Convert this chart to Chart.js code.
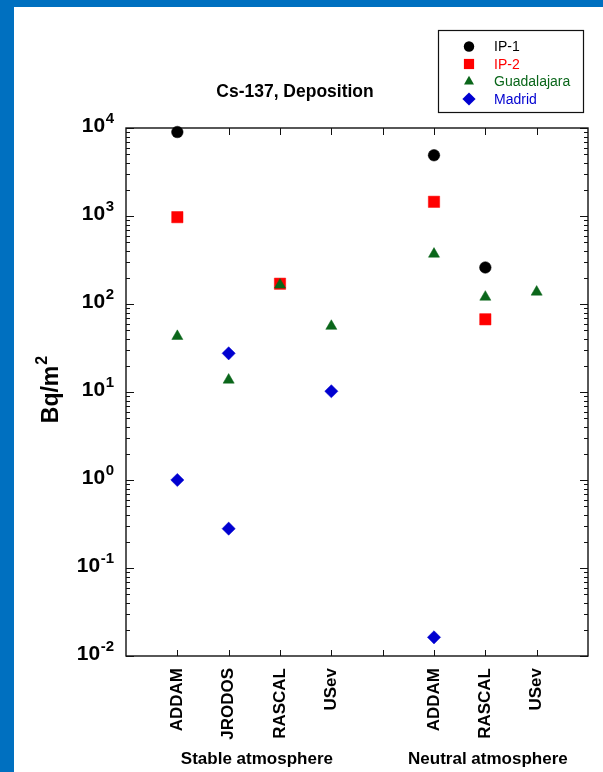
<!DOCTYPE html>
<html><head><meta charset="utf-8">
<script src="https://cdn.jsdelivr.net/npm/chart.js@4/dist/chart.umd.min.js"></script>
<style>
html,body{margin:0;padding:0;background:#0070c0;width:603px;height:772px;overflow:hidden}
#wrap{position:absolute;left:14px;top:7px;width:589px;height:765px;background:#fff}
canvas{display:block}
</style></head><body>
<div id="wrap"><canvas id="c" width="589" height="765" style="width:589px;height:765px"></canvas></div>
<script>
// ---- data ----
const categories = ['ADDAM', 'JRODOS', 'RASCAL', 'USev', '', 'ADDAM', 'RASCAL', 'USev'];
const categoryPositions = [1, 2, 3, 4, 5, 6, 7, 8];
const groupLabels = ['Stable atmosphere', 'Neutral atmosphere'];
const groupCenters = [2.55, 7.05];
const yTickValues = [0.01, 0.1, 1, 10, 100, 1000, 10000];
const yTickExponents = ['-2', '-1', '0', '1', '2', '3', '4'];

const ip1X = [1, 6, 7];
const ip1Y = [9000, 4900, 260];
const ip2X = [1, 3, 6, 7];
const ip2Y = [970, 170, 1450, 67];
const guadX = [1, 2, 3, 4, 6, 7, 8];
const guadY = [43, 13.7, 165, 56, 370, 120, 137];
const madX = [1, 2, 2, 4, 6];
const madY = [1.0, 27.5, 0.28, 10.2, 0.0163];

const titleText = 'Cs-137, Deposition';
const yTitleBase = 'Bq/m';
const yTitleSup = '2';

const FONT = '"Liberation Sans", Arial, sans-serif';
const series = [
  {label: 'IP-1', xs: ip1X, ys: ip1Y, color: '#000000', style: 'circle', r: 5.8},
  {label: 'IP-2', xs: ip2X, ys: ip2Y, color: '#ff0000', style: 'rect', r: 8},
  {label: 'Guadalajara', xs: guadX, ys: guadY, color: '#0a661a', style: 'triangle', r: 6.4},
  {label: 'Madrid', xs: madX, ys: madY, color: '#0000d0', style: 'rectRot', r: 6.6}
];

const datasets = series.map((s, k) => ({
  label: s.label,
  data: s.xs.map((x, i) => ({x: x, y: s.ys[i]})),
  pointStyle: s.style,
  pointRadius: s.r,
  pointHoverRadius: s.r,
  backgroundColor: s.color,
  borderColor: s.color,
  pointBorderWidth: 0.5,
  showLine: false,
  clip: false,
  order: series.length - k
}));

function drawMarker(ctx, style, r, x, y, color) {
  ctx.save();
  ctx.fillStyle = color;
  ctx.beginPath();
  if (style === 'circle') {
    ctx.arc(x, y, r, 0, Math.PI * 2);
  } else if (style === 'rect') {
    const s = r * Math.SQRT1_2;
    ctx.rect(x - s, y - s, 2 * s, 2 * s);
  } else if (style === 'triangle') {
    let a = 0;
    ctx.moveTo(x + Math.sin(a) * r, y - Math.cos(a) * r);
    a += 2 * Math.PI / 3;
    ctx.lineTo(x + Math.sin(a) * r, y - Math.cos(a) * r);
    a += 2 * Math.PI / 3;
    ctx.lineTo(x + Math.sin(a) * r, y - Math.cos(a) * r);
  } else {
    ctx.moveTo(x - r, y); ctx.lineTo(x, y - r); ctx.lineTo(x + r, y); ctx.lineTo(x, y + r);
  }
  ctx.closePath();
  ctx.fill();
  ctx.restore();
}

function scaledText(ctx, text, x, y, sx) {
  ctx.save();
  ctx.translate(x, y);
  ctx.scale(sx, 1);
  ctx.fillText(text, 0, 0);
  ctx.restore();
}

const framePlugin = {
  id: 'frame',
  beforeDatasetsDraw(chart) {
    const {ctx, chartArea: a, scales: {x, y}} = chart;
    ctx.save();
    ctx.strokeStyle = '#111';
    ctx.lineWidth = 1.4;
    ctx.strokeRect(a.left, a.top, a.right - a.left, a.bottom - a.top);
    ctx.lineWidth = 1;
    ctx.beginPath();
    for (let d = -2; d <= 4; d++) {
      for (let m = 1; m <= 9; m++) {
        const v = m * Math.pow(10, d);
        if (v > 10000.0001) break;
        const py = Math.round(y.getPixelForValue(v)) + 0.5;
        const len = m === 1 ? 8 : 4;
        ctx.moveTo(a.left, py); ctx.lineTo(a.left + len, py);
        ctx.moveTo(a.right, py); ctx.lineTo(a.right - len, py);
      }
    }
    categoryPositions.forEach(p => {
      const px = Math.round(x.getPixelForValue(p)) + 0.5;
      ctx.moveTo(px, a.bottom); ctx.lineTo(px, a.bottom - 6);
      ctx.moveTo(px, a.top); ctx.lineTo(px, a.top + 7);
    });
    ctx.stroke();
    ctx.restore();
  },
  afterDraw(chart) {
    const {ctx, chartArea: a, scales: {x, y}} = chart;
    ctx.save();
    ctx.fillStyle = '#000';
    yTickValues.forEach((v, i) => {
      const py = y.getPixelForValue(v);
      ctx.textAlign = 'right';
      ctx.textBaseline = 'alphabetic';
      ctx.font = 'bold 15px ' + FONT;
      const ex = yTickExponents[i];
      const right = a.left - 12;
      ctx.fillText(ex, right, py - 5);
      const ew = ctx.measureText(ex).width;
      ctx.font = 'bold 21px ' + FONT;
      ctx.fillText('10', right - ew - 0.5, py + 4);
    });
    ctx.font = 'bold 17px ' + FONT;
    categories.forEach((c, i) => {
      if (!c) return;
      const px = x.getPixelForValue(categoryPositions[i]);
      ctx.save();
      ctx.translate(px, a.bottom + 12);
      ctx.rotate(-Math.PI / 2);
      ctx.textAlign = 'right';
      ctx.textBaseline = 'middle';
      ctx.fillText(c, 0, 0);
      ctx.restore();
    });
    ctx.textAlign = 'center';
    ctx.textBaseline = 'alphabetic';
    groupLabels.forEach((g, i) => {
      ctx.fillText(g, x.getPixelForValue(groupCenters[i]), 757);
    });
    ctx.font = 'bold 19px ' + FONT;
    scaledText(ctx, titleText, 281, 90, 0.92);
    ctx.save();
    ctx.translate(44, 383);
    ctx.rotate(-Math.PI / 2);
    ctx.font = 'bold 23px ' + FONT;
    const bw = ctx.measureText(yTitleBase).width;
    ctx.font = 'bold 16px ' + FONT;
    const sw = ctx.measureText(yTitleSup).width;
    const start = -(bw + sw) / 2;
    ctx.textAlign = 'left';
    ctx.font = 'bold 23px ' + FONT;
    ctx.fillText(yTitleBase, start, 0);
    ctx.font = 'bold 16px ' + FONT;
    ctx.fillText(yTitleSup, start + bw + 1, -11);
    ctx.restore();
    const lx = 424, ly = 23, lw = 145, lh = 82;
    ctx.fillStyle = '#fff';
    ctx.fillRect(lx, ly, lw, lh);
    ctx.strokeStyle = '#111';
    ctx.lineWidth = 1.2;
    ctx.strokeRect(lx + 0.5, ly + 0.5, lw, lh);
    const rows = [39.5, 57, 74.5, 92];
    ctx.font = '14px ' + FONT;
    ctx.textAlign = 'left';
    ctx.textBaseline = 'middle';
    series.forEach((s, i) => {
      const scale = s.style === 'rectRot' ? 1 : 0.9;
      drawMarker(ctx, s.style, s.r * scale, 455, rows[i], s.color);
      ctx.fillStyle = s.color;
      ctx.fillText(s.label, 480, rows[i] + 1);
    });
    ctx.restore();
  }
};

new Chart(document.getElementById('c'), {
  type: 'scatter',
  data: {datasets: datasets},
  options: {
    responsive: false,
    animation: false,
    devicePixelRatio: 1,
    layout: {padding: {left: 112, top: 121, right: 15, bottom: 116}},
    plugins: {legend: {display: false}, tooltip: {enabled: false}},
    scales: {
      x: {type: 'linear', min: 0, max: 9, display: false},
      y: {type: 'logarithmic', min: 0.01, max: 10000, display: false}
    }
  },
  plugins: [framePlugin]
});
</script>
</body></html>
